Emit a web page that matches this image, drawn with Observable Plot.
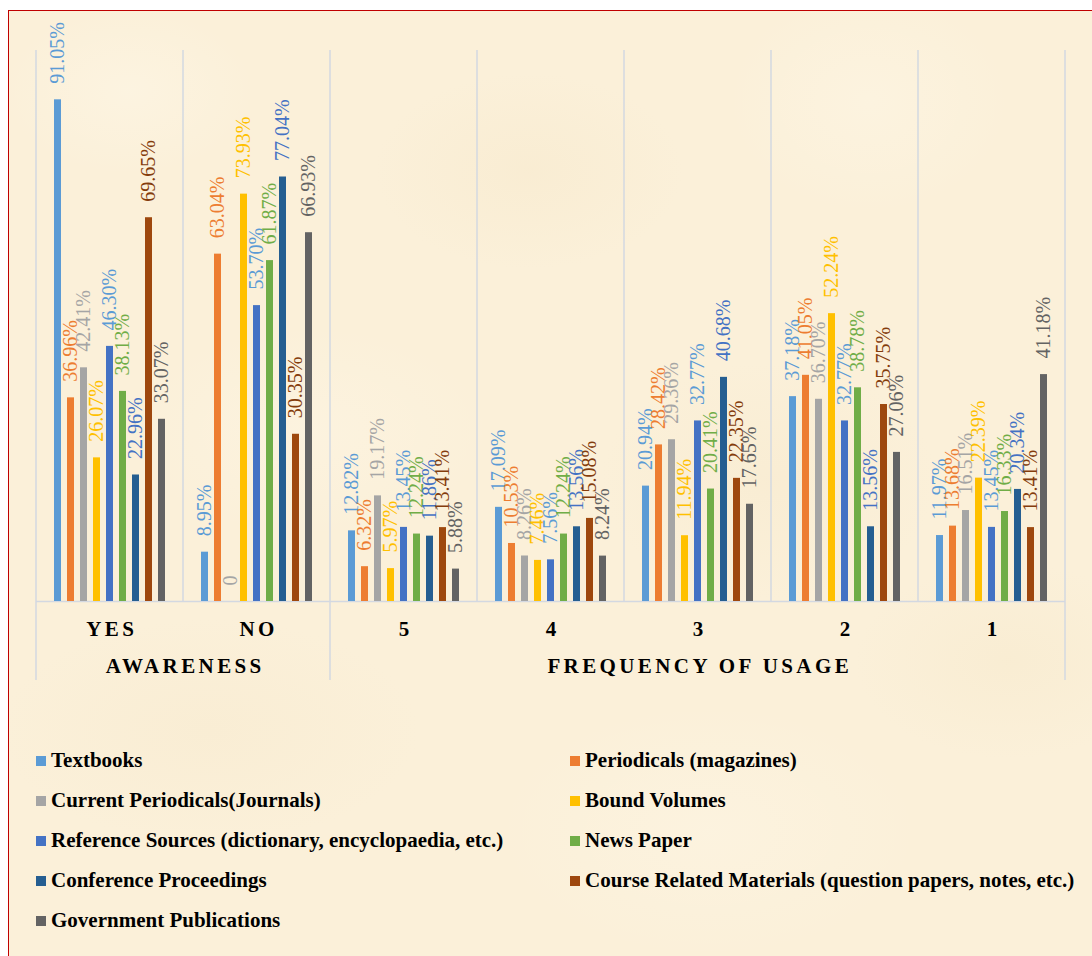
<!DOCTYPE html>
<html>
<head>
<meta charset="utf-8">
<script src="https://cdn.jsdelivr.net/npm/d3@7"></script>
<script src="https://cdn.jsdelivr.net/npm/@observablehq/plot@0.6"></script>
<style>
  html, body { margin: 0; padding: 0; background: #ffffff; }
  body { width: 1092px; height: 956px; overflow: hidden; position: relative; font-family: "Liberation Serif", "Times New Roman", serif; }
  #frame {
    position: absolute; left: 8px; top: 10px; width: 1100px; height: 960px;
    border: 1.5px solid #C00000; box-sizing: border-box;
    background-color: #FBF0D9;
    background-image:
      radial-gradient(ellipse 180px 120px at 120px 80px, rgba(255,250,238,0.35), rgba(255,250,238,0) 70%),
      radial-gradient(ellipse 220px 140px at 520px 160px, rgba(244,228,196,0.3), rgba(244,228,196,0) 70%),
      radial-gradient(ellipse 200px 160px at 860px 90px, rgba(255,249,235,0.35), rgba(255,249,235,0) 70%),
      radial-gradient(ellipse 260px 150px at 300px 420px, rgba(255,249,236,0.3), rgba(255,249,236,0) 70%),
      radial-gradient(ellipse 240px 170px at 760px 470px, rgba(244,229,198,0.3), rgba(244,229,198,0) 70%),
      radial-gradient(ellipse 300px 160px at 200px 720px, rgba(245,230,200,0.3), rgba(245,230,200,0) 70%),
      radial-gradient(ellipse 300px 180px at 700px 820px, rgba(255,249,236,0.3), rgba(255,249,236,0) 70%),
      radial-gradient(ellipse 220px 140px at 1000px 650px, rgba(244,229,196,0.3), rgba(244,229,196,0) 70%);
  }
  #chart { position: absolute; left: 0; top: 0; }
  #legend { position: absolute; left: 0; top: 0; width: 1092px; height: 956px; }
  .item { position: absolute; height: 24px; line-height: 24px; font-weight: bold; font-size: 21px; color: #000; white-space: nowrap; }
  .sw { position: absolute; width: 10px; height: 10px; }
  .lbl { position: absolute; }
</style>
</head>
<body>
<div id="frame"></div>
<div id="chart"></div>
<div id="legend"></div>
<script>
// ---- data ----
const groups = ["YES", "NO", "5", "4", "3", "2", "1"];
const groupLabels = ["AWARENESS", "FREQUENCY OF USAGE"];
const series = [
  "Textbooks",
  "Periodicals (magazines)",
  "Current Periodicals(Journals)",
  "Bound Volumes",
  "Reference Sources (dictionary, encyclopaedia, etc.)",
  "News Paper",
  "Conference Proceedings",
  "Course Related Materials (question papers, notes, etc.)",
  "Government Publications"
];
const colors = ["#5B9BD5", "#ED7D31", "#A5A5A5", "#FFC000", "#4472C4", "#70AD47", "#255E91", "#9E480E", "#636363"];
const labelColors = ["#5B9BD5", "#ED7D31", "#A5A5A5", "#FFC000", "#5B9BD5", "#70AD47", "#4472C4", "#843C0C", "#636363"];

const textbooks          = [91.05,  8.95, 12.82, 17.09, 20.94, 37.18, 11.97];
const periodicals        = [36.96, 63.04,  6.32, 10.53, 28.42, 41.05, 13.68];
const currentPeriodicals = [42.41,  0.00, 19.17,  8.26, 29.36, 36.70, 16.51];
const boundVolumes       = [26.07, 73.93,  5.97,  7.46, 11.94, 52.24, 22.39];
const referenceSources   = [46.30, 53.70, 13.45,  7.56, 32.77, 32.77, 13.45];
const newsPaper          = [38.13, 61.87, 12.24, 12.24, 20.41, 38.78, 16.33];
const conference         = [22.96, 77.04, 11.86, 13.56, 40.68, 13.56, 20.34];
const courseRelated      = [69.65, 30.35, 13.41, 15.08, 22.35, 35.75, 13.41];
const government         = [33.07, 66.93,  5.88,  8.24, 17.65, 27.06, 41.18];

const values = [textbooks, periodicals, currentPeriodicals, boundVolumes, referenceSources, newsPaper, conference, courseRelated, government];

const data = [];
series.forEach((s, si) => {
  groups.forEach((g, gi) => {
    data.push({ series: s, si, group: g, value: values[si][gi] });
  });
});
const fmt = v => v === 0 ? "0" : v.toFixed(2) + "%";

const serif = "Liberation Serif, Times New Roman, serif";

const plot = Plot.plot({
  width: 1092,
  height: 700,
  marginLeft: 35,
  marginRight: 26,
  marginTop: 50,
  marginBottom: 99,
  style: { background: "transparent", fontFamily: serif, overflow: "visible" },
  fx: { domain: groups, padding: 0, axis: null, label: null },
  x: { domain: series, paddingInner: 0.48, paddingOuter: 1.2, axis: null },
  y: { domain: [0, 100], axis: null },
  color: { domain: series, range: colors },
  marks: [
    Plot.ruleY([0], { stroke: "#D3D8E1", strokeWidth: 1.5 }),
    Plot.barY(data, { fx: "group", x: "series", y: "value", fill: "series" }),
    ...series.map((s, si) =>
      Plot.text(data.filter(d => d.si === si), {
        fx: "group", x: "series", y: "value",
        text: d => fmt(d.value),
        rotate: -90, textAnchor: "start", dy: -16,
        fill: labelColors[si], fontSize: 20, fontFamily: serif
      })
    ),
    Plot.axisFx({
      anchor: "bottom", tickSize: 0, tickPadding: 20, label: null,
      fontSize: 21, fontWeight: "bold", fill: "#000", fontFamily: serif
    }),
    Plot.text([groupLabels[0]], {
      fx: () => groups[0], frameAnchor: "bottom-right", textAnchor: "middle",
      lineAnchor: "top", dy: 57, fontSize: 21, fontWeight: "bold", fill: "#000",
      fontFamily: serif
    }),
    Plot.text([groupLabels[1]], {
      fx: () => groups[4], frameAnchor: "bottom", textAnchor: "middle",
      lineAnchor: "top", dy: 57, fontSize: 21, fontWeight: "bold", fill: "#000",
      fontFamily: serif
    })
  ]
});

document.getElementById("chart").appendChild(plot);

// letter spacing for category labels (compensate trailing spacing)
const LS = 3.4;
d3.select(plot).selectAll("text")
  .filter(function () { return groups.includes(this.textContent) || groupLabels.includes(this.textContent); })
  .style("letter-spacing", LS + "px")
  .attr("dx", LS / 2);

// separator lines from the library's scales
const fxS = plot.scale("fx");
const yS = plot.scale("y");
const bw = fxS.bandwidth;
const fxPos = g => fxS.apply(g);
const yTop = yS.apply(100), yBase = yS.apply(0);
const sep = d3.select(plot).insert("g", ":first-child").attr("aria-label", "separators")
  .attr("stroke", "#D3D8E1").attr("stroke-width", 1.5);
const edges = groups.map(fxPos).concat([fxPos(groups[groups.length - 1]) + bw]);
edges.forEach(x => {
  sep.append("line").attr("x1", x).attr("x2", x).attr("y1", yTop).attr("y2", yBase);
});
// extended lines delimiting the two category groups
[fxPos(groups[0]), fxPos(groups[2]), fxPos(groups[groups.length - 1]) + bw].forEach(x => {
  sep.append("line").attr("x1", x).attr("x2", x).attr("y1", yBase).attr("y2", yBase + 79);
});

// ---- legend ----
const legend = document.getElementById("legend");
series.forEach((s, i) => {
  const col = i % 2, row = Math.floor(i / 2);
  const item = document.createElement("div");
  item.className = "item";
  const left = col === 0 ? 36 : 570;
  item.style.left = left + "px";
  item.style.top = (748 + row * 40) + "px";
  const sw = document.createElement("div");
  sw.className = "sw";
  sw.style.background = colors[i];
  sw.style.left = "0px";
  sw.style.top = "8px";
  const lbl = document.createElement("div");
  lbl.className = "lbl";
  lbl.style.left = "15px";
  lbl.style.top = "0px";
  lbl.textContent = s;
  item.appendChild(sw);
  item.appendChild(lbl);
  legend.appendChild(item);
});
</script>
</body>
</html>
